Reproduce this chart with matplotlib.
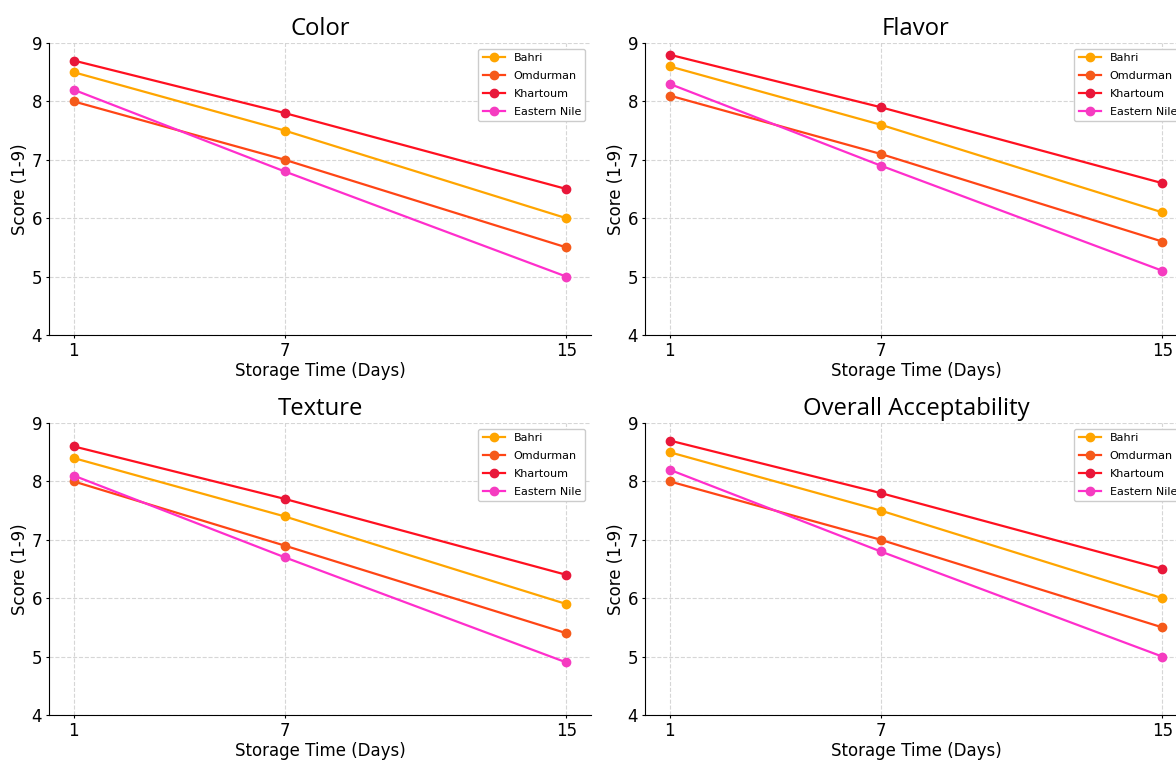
import matplotlib
matplotlib.use("Agg")
import matplotlib.pyplot as plt

days = [1, 7, 15]
locations = ["Bahri", "Omdurman", "Khartoum", "Eastern Nile"]
attributes = ["Color", "Flavor", "Texture", "Overall Acceptability"]

color_scores = {
    "Bahri": [8.5, 7.5, 6.0],
    "Omdurman": [8.0, 7.0, 5.5],
    "Khartoum": [8.7, 7.8, 6.5],
    "Eastern Nile": [8.2, 6.8, 5.0],
}
flavor_scores = {
    "Bahri": [8.6, 7.6, 6.1],
    "Omdurman": [8.1, 7.1, 5.6],
    "Khartoum": [8.8, 7.9, 6.6],
    "Eastern Nile": [8.3, 6.9, 5.1],
}
texture_scores = {
    "Bahri": [8.4, 7.4, 5.9],
    "Omdurman": [8.0, 6.9, 5.4],
    "Khartoum": [8.6, 7.7, 6.4],
    "Eastern Nile": [8.1, 6.7, 4.9],
}
overall_scores = {
    "Bahri": [8.5, 7.5, 6.0],
    "Omdurman": [8.0, 7.0, 5.5],
    "Khartoum": [8.7, 7.8, 6.5],
    "Eastern Nile": [8.2, 6.8, 5.0],
}
all_scores = [color_scores, flavor_scores, texture_scores, overall_scores]

line_colors = {"Bahri": "#FFA500", "Omdurman": "#FF4515", "Khartoum": "#FF1020", "Eastern Nile": "#FF2ECC"}
marker_colors = {"Bahri": "#FFA500", "Omdurman": "#F55A1A", "Khartoum": "#E8173A", "Eastern Nile": "#F53CC0"}

fig = plt.figure(figsize=(11.76, 7.6), dpi=100)
W, H = 1176, 760
positions = [
    (49 / W, 1 - 335 / H, 542 / W, 292 / H),
    (645 / W, 1 - 335 / H, 542 / W, 292 / H),
    (49 / W, 1 - 715 / H, 542 / W, 292 / H),
    (645 / W, 1 - 715 / H, 542 / W, 292 / H),
]

for pos, title, scores in zip(positions, attributes, all_scores):
    ax = fig.add_axes(pos)
    for loc in locations:
        ax.plot(days, scores[loc], marker="o", markersize=6, linewidth=1.6,
                color=line_colors[loc], markerfacecolor=marker_colors[loc],
                markeredgecolor=marker_colors[loc], label=loc)
    ax.set_title(title, fontsize=17.2, family="Open Sans", pad=6)
    ax.set_xlabel("Storage Time (Days)", fontsize=12, labelpad=1.5)
    ax.set_ylabel("Score (1-9)", fontsize=12, labelpad=2)
    ax.set_xticks(days)
    ax.set_ylim(4, 9)
    ax.tick_params(labelsize=12, length=2.5, pad=2.5)
    ax.grid(True, linestyle="--", color="#cccccc", linewidth=0.8, alpha=0.8)
    ax.spines["top"].set_visible(False)
    ax.spines["right"].set_visible(False)
    ax.legend(loc="upper right", fontsize=8, framealpha=1, labelspacing=0.72)

fig.savefig("out.png", dpi=100)
